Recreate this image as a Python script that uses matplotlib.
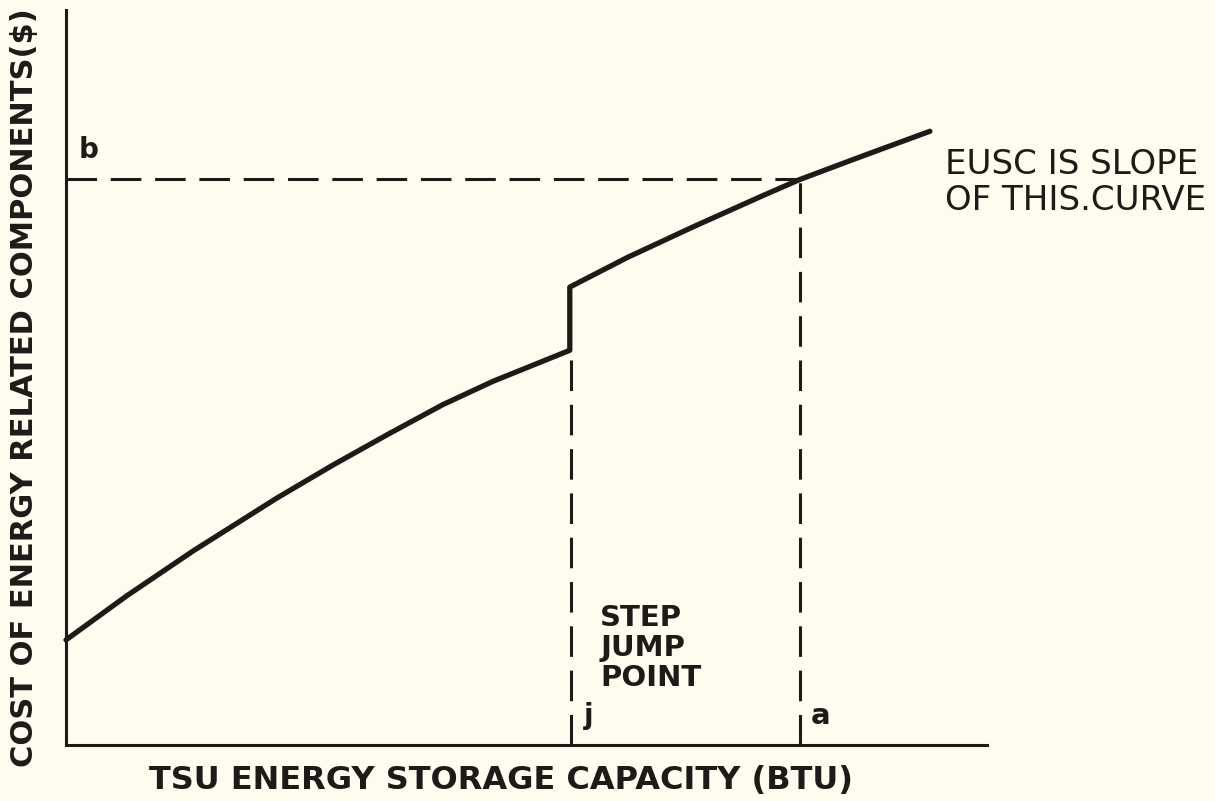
import matplotlib
matplotlib.use("Agg")
import matplotlib.pyplot as plt

# ---- data (arbitrary units 0..100) ----
lower_x = [0.0, 6.6, 13.8, 22.9, 29.0, 35.0, 40.9, 46.4, 54.7]
lower_y = [14.3, 20.3, 26.4, 33.6, 38.1, 42.3, 46.3, 49.5, 53.7]
upper_x = [54.7, 60.9, 68.1, 75.4, 79.6, 86.2, 93.8]
upper_y = [62.3, 66.3, 70.5, 74.6, 76.9, 80.0, 83.5]
jump_x = 54.8
a_x = 79.7
b_y = 77.0

x_label = "TSU ENERGY STORAGE CAPACITY (BTU)"
y_label = "COST OF ENERGY RELATED COMPONENTS($)"
note_lines = ["EUSC IS SLOPE", "OF THIS.CURVE"]
step_lines = ["STEP", "JUMP", "POINT"]

ink = "#1c1b18"
paper = "#fdfcef"
font = "DejaVu Sans"

fig = plt.figure(figsize=(12.15, 8.01), dpi=100, facecolor=paper)
ax = fig.add_axes([66/1215, 1-745/801, 921/1215, 735/801])
ax.set_facecolor(paper)
ax.set_xlim(0, 100)
ax.set_ylim(0, 100)
for s in ["top", "right"]:
    ax.spines[s].set_visible(False)
for s in ["left", "bottom"]:
    ax.spines[s].set_linewidth(2.2)
    ax.spines[s].set_color(ink)
ax.set_xticks([])
ax.set_yticks([])

# curve with step jump
cx = lower_x + upper_x
cy = lower_y + upper_y
ax.plot(cx, cy, color=ink, lw=3.8, solid_joinstyle="round", solid_capstyle="round",
        clip_on=False)

dash = (0, (10, 4.5))
ax.plot([0, a_x], [b_y, b_y], color=ink, lw=2.2, linestyle=dash, clip_on=False)
ax.plot([a_x, a_x], [0, b_y], color=ink, lw=2.2, linestyle=dash, clip_on=False)
ax.plot([jump_x, jump_x], [0, lower_y[-1]], color=ink, lw=2.2, linestyle=dash, clip_on=False)

tkw = dict(color=ink, family=font, fontweight="bold", clip_on=False)
ax.text(2.4, 81.0, "b", fontsize=20, ha="center", va="center", **tkw)
ax.text(56.7, 3.9, "j", fontsize=20, ha="center", va="center", **tkw)
ax.text(81.9, 3.9, "a", fontsize=21, ha="center", va="center", **tkw)
for i, t in enumerate(step_lines):
    ax.text(58.0, 17.3 - 4.1 * i, t, fontsize=21, ha="left", va="center", **tkw)
ax.text(95.4, 79.0, note_lines[0], fontsize=24.5, ha="left", va="center",
        color=ink, family=font, clip_on=False)
ax.text(95.4, 74.1, note_lines[1], fontsize=24.5, ha="left", va="center",
        color=ink, family=font, clip_on=False)

fig.text(501/1215, 1-780/801, x_label, fontsize=23, ha="center", va="center",
         color=ink, family=font, fontweight="bold")
fig.text(25/1215, 1-388/801, y_label, fontsize=22, ha="center", va="center",
         rotation=90, color=ink, family=font, fontweight="bold")

fig.savefig("out.png", dpi=100, facecolor=paper)
